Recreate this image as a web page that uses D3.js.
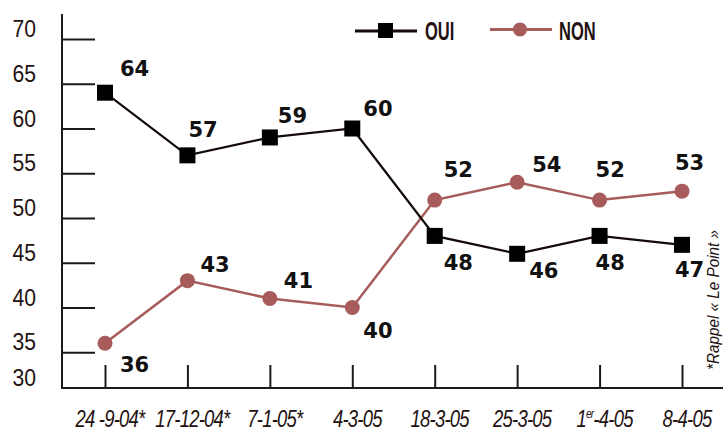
<!DOCTYPE html>
<html>
<head>
<meta charset="utf-8">
<script src="https://cdn.jsdelivr.net/npm/d3@7"></script>
<style>
  body { margin: 0; background: #fff; }
  svg { display: block; }
</style>
</head>
<body>
<svg id="chart"></svg>
<script>
// sondage OUI / NON
const dates = ["24 -9-04*", "17-12-04*", "7-1-05*", "4-3-05", "18-3-05", "25-3-05", "1er-4-05", "8-4-05"];
const oui = [64, 57, 59, 60, 48, 46, 48, 47];
const non = [36, 43, 41, 40, 52, 54, 52, 53];
const yTicks = [30, 35, 40, 45, 50, 55, 60, 65, 70];

// label offsets (dx, dy) from each point
const ouiLabelPos = [[15, -17], [1, -18], [8, -14], [11, -13], [9, 34], [12, 24], [-4, 34], [-7, 32]];
const nonLabelPos = [[15, 29], [13, -9], [14, -11], [11, 30], [9, -23], [15, -10], [-4, -23], [-7, -21]];

const width = 725, height = 435;
const axisX = 62, baseY = 388, topY = 14;
const ouiColor = "#140a0a", nonColor = "#a85b5b", inkColor = "#241212";
const narrow = "'Liberation Sans Narrow', 'Arial Narrow', 'Liberation Sans', sans-serif";

const svg = d3.select("#chart").attr("width", width).attr("height", height);

const x = d3.scalePoint().domain(dates).range([105, 682]);
const y = d3.scaleLinear().domain([30, 70]).range([397, 39]);

// y axis ticks
const yAxis = d3.axisRight(y).tickValues(yTicks.filter(d => d > 30)).tickSize(33).tickFormat("");
const gy = svg.append("g").attr("transform", `translate(${axisX},0)`).call(yAxis);
gy.select(".domain").remove();
gy.selectAll("line").attr("stroke", "#1a1a1a").attr("stroke-width", 2);

svg.append("g").selectAll("text")
  .data(yTicks)
  .join("text")
  .attr("transform", d => `translate(36,${Math.min(y(d), baseY) - 2}) scale(0.88,1)`)
  .attr("text-anchor", "end")
  .attr("font-family", narrow)
  .attr("font-size", 24)
  .attr("fill", inkColor)
  .text(d => d);

// x axis ticks
const xAxis = d3.axisTop(x).tickSize(23).tickFormat("");
const gx = svg.append("g").attr("transform", `translate(0,${baseY})`).call(xAxis);
gx.select(".domain").remove();
gx.selectAll("line").attr("stroke", "#1a1a1a").attr("stroke-width", 2);

// axis lines
svg.append("line").attr("x1", axisX).attr("x2", axisX).attr("y1", topY).attr("y2", baseY + 1)
  .attr("stroke", "#1a1a1a").attr("stroke-width", 2);
svg.append("line").attr("x1", axisX - 1).attr("x2", 723).attr("y1", baseY).attr("y2", baseY)
  .attr("stroke", "#1a1a1a").attr("stroke-width", 2);

// x labels
const xl = svg.append("g").selectAll("text")
  .data(dates)
  .join("text")
  .attr("transform", d => `translate(${x(d) + 5},427) scale(0.77,1)`)
  .attr("text-anchor", "middle")
  .attr("font-family", narrow)
  .attr("font-style", "italic")
  .attr("font-size", 24)
  .attr("letter-spacing", -1)
  .attr("fill", inkColor);
xl.each(function(d) {
  const t = d3.select(this);
  if (d.startsWith("1er")) {
    t.append("tspan").text("1");
    t.append("tspan").attr("font-size", 13).attr("dy", -9).text("er");
    t.append("tspan").attr("dy", 9).text(d.slice(3));
  } else {
    t.text(d);
  }
});

// lines
const line = d3.line().x((d, i) => x(dates[i])).y(d => y(d));

svg.append("path").datum(non).attr("d", line)
  .attr("fill", "none").attr("stroke", nonColor).attr("stroke-width", 2.5);
svg.append("path").datum(oui).attr("d", line)
  .attr("fill", "none").attr("stroke", ouiColor).attr("stroke-width", 2.2);

// markers
svg.append("g").selectAll("circle")
  .data(non)
  .join("circle")
  .attr("cx", (d, i) => x(dates[i]))
  .attr("cy", d => y(d))
  .attr("r", 7.5)
  .attr("fill", nonColor);

svg.append("g").selectAll("rect")
  .data(oui)
  .join("rect")
  .attr("x", (d, i) => x(dates[i]) - 8)
  .attr("y", d => y(d) - 8)
  .attr("width", 16)
  .attr("height", 16)
  .attr("fill", "#000");

// value labels
function valueLabels(data, pos) {
  svg.append("g").selectAll("text")
    .data(data)
    .join("text")
    .attr("x", (d, i) => x(dates[i]) + pos[i][0])
    .attr("y", (d, i) => y(d) + pos[i][1])
    .attr("font-family", "'DejaVu Sans', Verdana, sans-serif")
    .attr("font-weight", "bold")
    .attr("font-size", 21)
    .attr("fill", "#111")
    .text(d => d);
}
valueLabels(oui, ouiLabelPos);
valueLabels(non, nonLabelPos);

// legend
const legend = svg.append("g");
legend.append("line").attr("x1", 355).attr("x2", 417).attr("y1", 31).attr("y2", 31)
  .attr("stroke", ouiColor).attr("stroke-width", 3);
legend.append("rect").attr("x", 378).attr("y", 23).attr("width", 15).attr("height", 15).attr("fill", "#000");
legend.append("text").attr("transform", "translate(425,40) scale(0.66,1)").text("OUI");
legend.append("line").attr("x1", 490).attr("x2", 552).attr("y1", 29.5).attr("y2", 29.5)
  .attr("stroke", nonColor).attr("stroke-width", 3);
legend.append("circle").attr("cx", 520).attr("cy", 29.5).attr("r", 7).attr("fill", nonColor);
legend.append("text").attr("transform", "translate(559,40) scale(0.66,1)").text("NON");
legend.selectAll("text")
  .attr("font-family", narrow)
  .attr("font-weight", "bold")
  .attr("font-size", 25)
  .attr("fill", inkColor);

// source note
svg.append("text")
  .attr("transform", "translate(719,370) rotate(-90)")
  .attr("font-family", narrow)
  .attr("font-style", "italic")
  .attr("font-size", 16)
  .attr("textLength", 140)
  .attr("lengthAdjust", "spacingAndGlyphs")
  .attr("fill", inkColor)
  .text("*Rappel « Le Point »");
</script>
</body>
</html>
